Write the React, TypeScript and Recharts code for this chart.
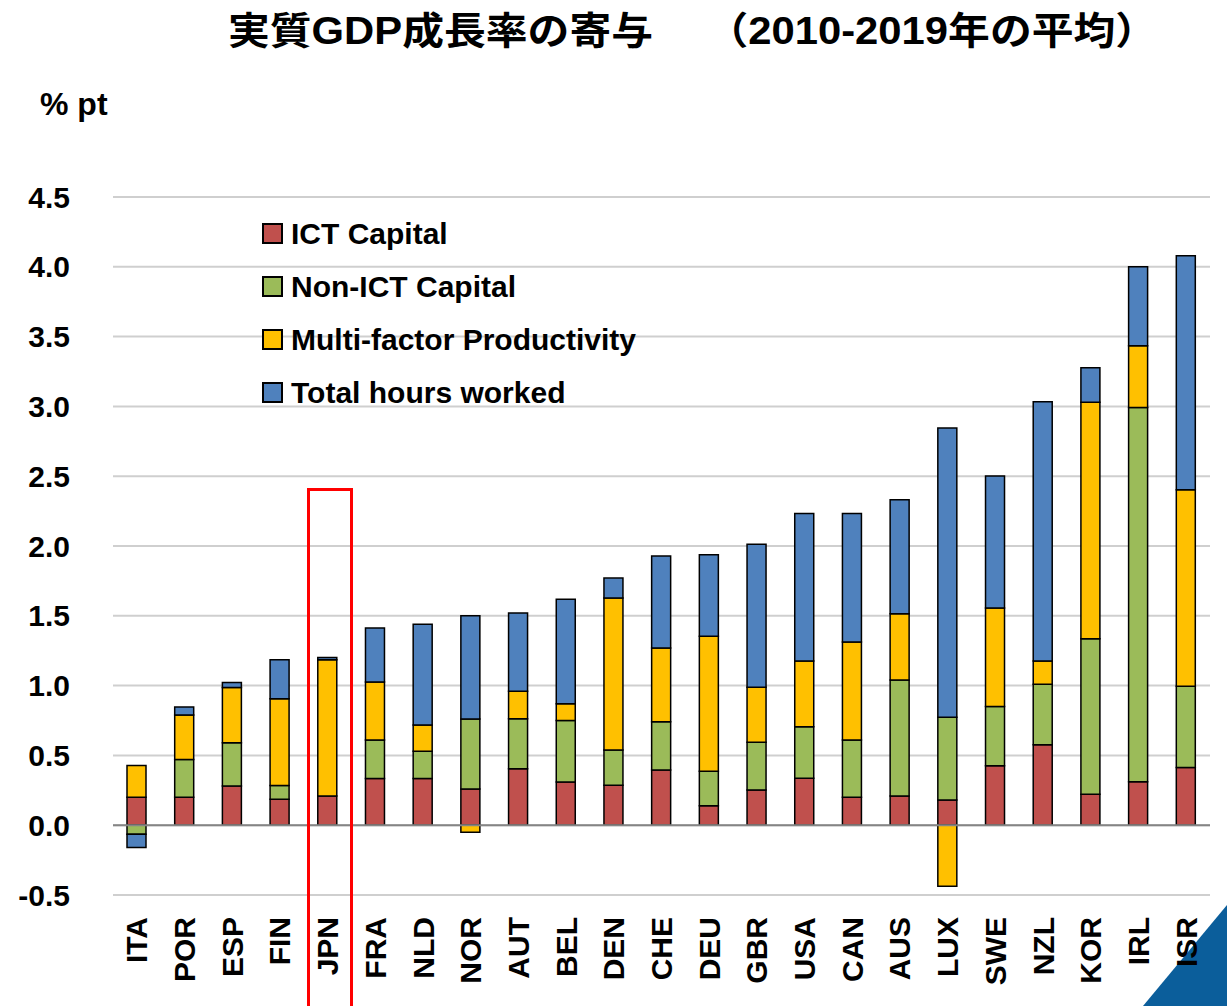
import { Bar, BarChart, CartesianGrid, ReferenceLine, XAxis, YAxis } from "recharts";

const FONT = "'Liberation Sans', Arial, sans-serif";

const countries = ["ITA", "POR", "ESP", "FIN", "JPN", "FRA", "NLD", "NOR", "AUT", "BEL", "DEN", "CHE", "DEU", "GBR", "USA", "CAN", "AUS", "LUX", "SWE", "NZL", "KOR", "IRL", "ISR"];
const ictCapital = [0.2, 0.2, 0.28, 0.185, 0.21, 0.335, 0.335, 0.26, 0.405, 0.31, 0.287, 0.395, 0.14, 0.253, 0.337, 0.2, 0.21, 0.18, 0.426, 0.576, 0.221, 0.312, 0.414];
const nonIctCapital = [-0.065, 0.27, 0.31, 0.1, 0.0, 0.275, 0.195, 0.5, 0.357, 0.44, 0.251, 0.346, 0.247, 0.342, 0.368, 0.41, 0.83, 0.594, 0.425, 0.434, 1.115, 2.681, 0.582];
const multiFactor = [0.228, 0.32, 0.397, 0.62, 0.975, 0.416, 0.187, -0.05, 0.198, 0.12, 1.089, 0.528, 0.966, 0.394, 0.471, 0.703, 0.475, -0.437, 0.704, 0.167, 1.694, 0.442, 1.407];
const hoursWorked = [-0.095, 0.057, 0.035, 0.28, 0.017, 0.387, 0.723, 0.741, 0.56, 0.748, 0.143, 0.659, 0.585, 1.023, 1.056, 0.92, 0.817, 2.072, 0.947, 1.856, 0.247, 0.565, 1.676];
const yTicks = [-0.5, 0, 0.5, 1, 1.5, 2, 2.5, 3, 3.5, 4, 4.5];

const SERIES = [
    { key: "ict", name: "ICT Capital", color: "#c0504d" },
    { key: "nonIct", name: "Non-ICT Capital", color: "#9bbb59" },
    { key: "mfp", name: "Multi-factor Productivity", color: "#ffc000" },
    { key: "hours", name: "Total hours worked", color: "#4f81bd" },
];

const data = countries.map((name, i) => ({
    name,
    ict: ictCapital[i],
    nonIct: nonIctCapital[i],
    mfp: multiFactor[i],
    hours: hoursWorked[i],
}));

const CountryTick = ({ x, y, payload }: any) => (
    <text
        x={x}
        y={y + 22}
        transform={`rotate(-90, ${x}, ${y + 22})`}
        textAnchor="end"
        dominantBaseline="central"
        style={{ fontSize: 30, fontWeight: 700, fontFamily: FONT, fill: "#000" }}
    >
        {payload.value}
    </text>
);

// legend drawn as an overlay so it doesn't take space from the plot
const LegendBox = () => (
    <div style={{ position: "absolute", left: 262, top: 207, zIndex: 2, fontFamily: FONT, fontWeight: 700, fontSize: 30, color: "#000" }}>
        {SERIES.map((s) => (
            <div key={s.key} style={{ display: "flex", alignItems: "center", height: 53 }}>
                <span
                    style={{
                        display: "inline-block",
                        width: 17,
                        height: 17,
                        background: s.color,
                        border: "2px solid #000",
                        marginRight: 8,
                    }}
                />
                <span>{s.name}</span>
            </div>
        ))}
    </div>
);

export default function App() {
    return (
        <div style={{ position: "absolute", left: 0, top: 0, width: 1227, height: 1006, background: "#fff", overflow: "hidden" }}>
            {/* corner triangle sits behind the chart so the ISR label stays visible */}
            <svg style={{ position: "absolute", left: 1100, top: 880, zIndex: 0 }} width={127} height={126}>
                <polygon points="127,25 127,126 43,126" fill="#0b5e9b" />
            </svg>
            <div
                style={{
                    position: "absolute",
                    top: 0,
                    left: 228,
                    zIndex: 2,
                    fontFamily: "'Liberation Sans', 'Noto Sans CJK JP', sans-serif",
                    fontWeight: 700,
                    fontSize: 38,
                    whiteSpace: "pre",
                    transform: "scaleX(1.1)",
                    transformOrigin: "left center",
                }}
            >
                実質GDP成長率の寄与　 （2010-2019年の平均）
            </div>
            <div style={{ position: "absolute", top: 86, left: 40, zIndex: 2, fontFamily: FONT, fontWeight: 700, fontSize: 32 }}>
                % pt
            </div>
            <div style={{ position: "absolute", left: 0, top: 0, zIndex: 1 }}>
                <BarChart
                    width={1227}
                    height={1006}
                    data={data}
                    stackOffset="sign"
                    barSize={19}
                    margin={{ top: 197, right: 17, bottom: 11, left: 0 }}
                >
                    <CartesianGrid vertical={false} stroke="#cfcfcf" strokeWidth={2} />
                    <XAxis dataKey="name" interval={0} axisLine={false} tickLine={false} tickSize={0} tickMargin={0} height={100} tick={<CountryTick />} />
                    <YAxis
                        type="number"
                        domain={[-0.5, 4.5]}
                        ticks={yTicks}
                        width={113}
                        axisLine={false}
                        tickLine={false}
                        tickSize={0}
                        tickMargin={43}
                        tickFormatter={(v: number) => v.toFixed(1)}
                        tick={{ fontSize: 30, fontWeight: 700, fontFamily: FONT, fill: "#000" }}
                    />
                    <ReferenceLine y={0} stroke="#858585" strokeWidth={2} />
                    {SERIES.map((s) => (
                        <Bar key={s.key} dataKey={s.key} name={s.name} stackId="a" fill={s.color} stroke="#000" strokeWidth={1.5} isAnimationActive={false} />
                    ))}
                </BarChart>
            </div>
            <LegendBox />
            <div
                style={{
                    position: "absolute",
                    left: 307,
                    top: 488,
                    width: 40,
                    height: 540,
                    zIndex: 3,
                    border: "3px solid #ff0000",
                }}
            />
        </div>
    );
}
